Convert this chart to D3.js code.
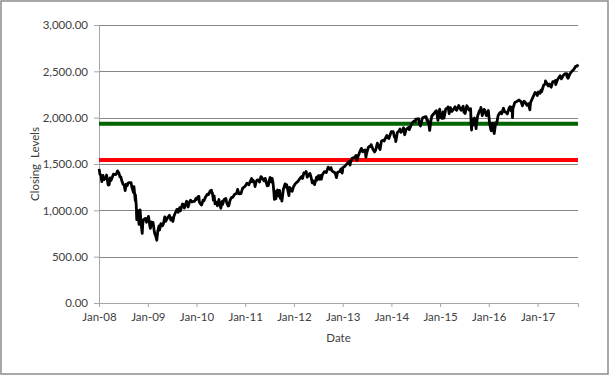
<!DOCTYPE html>
<html>
<head>
<meta charset="utf-8">
<script src="https://cdn.jsdelivr.net/npm/d3@7"></script>
<style>
  body { margin: 0; background: #fff; }
  svg text { font-family: Lato, "Open Sans", sans-serif; fill: #404040; }
</style>
</head>
<body>
<svg id="chart" width="609" height="375"></svg>
<script>
// S&P 500 closing levels (roughly twice a month plus swings)
const closingLevels = [
  ["2008-01-02",1447],["2008-01-08",1390],["2008-01-15",1380],["2008-01-22",1310],["2008-01-28",1353],["2008-01-31",1378],
  ["2008-02-08",1331],["2008-02-14",1349],["2008-02-21",1342],["2008-02-27",1381],["2008-03-07",1294],["2008-03-10",1273],
  ["2008-03-17",1276],["2008-03-24",1349],["2008-03-31",1322],["2008-04-10",1360],["2008-04-18",1390],["2008-04-30",1386],
  ["2008-05-09",1388],["2008-05-19",1426],["2008-05-30",1400],["2008-06-06",1361],["2008-06-13",1360],["2008-06-20",1318],
  ["2008-06-30",1280],["2008-07-08",1273],["2008-07-15",1214],["2008-07-23",1282],["2008-07-31",1267],["2008-08-08",1296],
  ["2008-08-15",1298],["2008-08-28",1300],["2008-09-05",1242],["2008-09-15",1193],["2008-09-19",1255],["2008-09-29",1106],
  ["2008-09-30",1166],["2008-10-06",1056],["2008-10-10",899],["2008-10-13",1003],["2008-10-20",985],["2008-10-27",848],
  ["2008-10-31",968],["2008-11-04",1005],["2008-11-12",852],["2008-11-20",752],["2008-11-24",851],["2008-11-28",896],
  ["2008-12-08",909],["2008-12-16",913],["2008-12-22",871],["2008-12-31",903],
  ["2009-01-06",935],["2009-01-15",843],["2009-01-20",805],["2009-01-28",874],["2009-02-09",870],["2009-02-17",789],
  ["2009-02-23",743],["2009-02-27",735],["2009-03-09",677],["2009-03-17",778],["2009-03-26",832],["2009-03-30",787],
  ["2009-04-09",857],["2009-04-20",832],["2009-04-28",855],["2009-05-08",929],["2009-05-15",882],["2009-05-29",919],
  ["2009-06-12",946],["2009-06-23",895],["2009-06-30",919],["2009-07-08",880],["2009-07-17",941],["2009-07-31",987],
  ["2009-08-07",1010],["2009-08-17",979],["2009-08-28",1029],["2009-09-02",994],["2009-09-18",1068],["2009-09-30",1057],
  ["2009-10-02",1025],["2009-10-19",1098],["2009-10-30",1036],["2009-11-10",1094],["2009-11-17",1110],["2009-11-27",1091],
  ["2009-12-09",1096],["2009-12-17",1097],["2009-12-28",1128],["2009-12-31",1115],
  ["2010-01-11",1146],["2010-01-19",1150],["2010-01-22",1092],["2010-01-29",1074],["2010-02-08",1057],["2010-02-19",1109],
  ["2010-02-26",1104],["2010-03-10",1145],["2010-03-23",1174],["2010-03-31",1169],["2010-04-14",1211],["2010-04-23",1217],
  ["2010-04-27",1183],["2010-04-30",1187],["2010-05-06",1128],["2010-05-07",1111],["2010-05-13",1157],["2010-05-20",1071],
  ["2010-05-25",1074],["2010-05-28",1089],["2010-06-07",1050],["2010-06-18",1117],["2010-06-29",1041],["2010-07-02",1022],
  ["2010-07-13",1095],["2010-07-16",1065],["2010-07-26",1115],["2010-08-09",1128],["2010-08-16",1080],["2010-08-26",1047],
  ["2010-08-31",1049],["2010-09-10",1110],["2010-09-21",1140],["2010-09-30",1141],["2010-10-14",1173],["2010-10-29",1183],
  ["2010-11-05",1225],["2010-11-16",1178],["2010-11-30",1181],["2010-12-13",1240],["2010-12-31",1258],
  ["2011-01-14",1293],["2011-01-28",1276],["2011-01-31",1286],["2011-02-18",1343],["2011-02-23",1307],["2011-02-28",1327],
  ["2011-03-11",1304],["2011-03-16",1257],["2011-03-24",1309],["2011-03-31",1326],["2011-04-08",1329],["2011-04-18",1305],
  ["2011-04-29",1364],["2011-05-02",1361],["2011-05-13",1338],["2011-05-23",1317],["2011-05-31",1345],["2011-06-15",1265],
  ["2011-06-24",1268],["2011-06-30",1321],["2011-07-07",1354],["2011-07-18",1305],["2011-07-22",1345],["2011-07-29",1292],
  ["2011-08-04",1200],["2011-08-08",1119],["2011-08-10",1121],["2011-08-15",1204],["2011-08-19",1124],["2011-08-31",1219],
  ["2011-09-09",1154],["2011-09-16",1216],["2011-09-22",1130],["2011-09-30",1131],["2011-10-03",1099],["2011-10-14",1225],
  ["2011-10-27",1285],["2011-10-31",1253],["2011-11-08",1276],["2011-11-25",1159],["2011-11-30",1247],["2011-12-08",1234],
  ["2011-12-19",1206],["2011-12-30",1258],
  ["2012-01-13",1289],["2012-01-31",1312],["2012-02-15",1344],["2012-02-29",1366],["2012-03-06",1343],["2012-03-16",1404],
  ["2012-03-30",1408],["2012-04-02",1419],["2012-04-10",1358],["2012-04-20",1379],["2012-04-30",1398],["2012-05-08",1363],
  ["2012-05-18",1295],["2012-05-25",1317],["2012-05-31",1310],["2012-06-04",1278],["2012-06-19",1357],["2012-06-21",1325],
  ["2012-06-29",1362],["2012-07-03",1375],["2012-07-12",1334],["2012-07-19",1376],["2012-07-25",1337],["2012-07-31",1379],
  ["2012-08-16",1418],["2012-08-31",1407],["2012-09-14",1466],["2012-09-28",1441],["2012-10-05",1461],["2012-10-12",1428],
  ["2012-10-23",1413],["2012-10-31",1412],["2012-11-07",1395],["2012-11-15",1353],["2012-11-23",1409],["2012-11-30",1416],
  ["2012-12-10",1418],["2012-12-18",1446],["2012-12-28",1402],["2012-12-31",1426],
  ["2013-01-02",1462],["2013-01-15",1472],["2013-01-31",1498],["2013-02-19",1530],["2013-02-25",1488],["2013-02-28",1515],
  ["2013-03-14",1563],["2013-03-28",1569],["2013-04-11",1593],["2013-04-18",1541],["2013-04-30",1598],["2013-05-10",1634],
  ["2013-05-21",1669],["2013-05-31",1631],["2013-06-07",1643],["2013-06-18",1652],["2013-06-24",1573],["2013-06-28",1606],
  ["2013-07-12",1680],["2013-07-23",1692],["2013-07-31",1686],["2013-08-02",1710],["2013-08-15",1662],["2013-08-27",1630],
  ["2013-08-30",1633],["2013-09-06",1655],["2013-09-18",1725],["2013-09-30",1682],["2013-10-08",1656],["2013-10-18",1745],
  ["2013-10-31",1757],["2013-11-07",1748],["2013-11-27",1807],["2013-11-29",1806],["2013-12-05",1785],["2013-12-13",1775],
  ["2013-12-31",1848],
  ["2014-01-15",1848],["2014-01-24",1790],["2014-01-31",1783],["2014-02-03",1742],["2014-02-14",1838],["2014-02-28",1859],
  ["2014-03-07",1878],["2014-03-14",1841],["2014-03-31",1872],["2014-04-02",1891],["2014-04-11",1816],["2014-04-21",1872],
  ["2014-04-30",1884],["2014-05-13",1897],["2014-05-15",1870],["2014-05-30",1924],["2014-06-10",1951],["2014-06-20",1963],
  ["2014-06-30",1960],["2014-07-03",1985],["2014-07-24",1988],["2014-07-31",1931],["2014-08-07",1910],["2014-08-21",1993],
  ["2014-08-29",2003],["2014-09-18",2011],["2014-09-25",1966],["2014-09-30",1972],["2014-10-09",1928],["2014-10-15",1862],
  ["2014-10-24",1965],["2014-10-31",2018],["2014-11-13",2039],["2014-11-28",2068],["2014-12-05",2075],["2014-12-16",1972],
  ["2014-12-29",2091],["2014-12-31",2059],
  ["2015-01-06",2002],["2015-01-15",1992],["2015-01-22",2063],["2015-01-30",1995],["2015-02-13",2097],["2015-02-27",2105],
  ["2015-03-02",2117],["2015-03-10",2044],["2015-03-20",2108],["2015-03-31",2068],["2015-04-14",2096],["2015-04-24",2117],
  ["2015-04-30",2086],["2015-05-06",2080],["2015-05-21",2131],["2015-05-29",2107],["2015-06-08",2080],["2015-06-23",2124],
  ["2015-06-29",2058],["2015-06-30",2063],["2015-07-08",2046],["2015-07-20",2129],["2015-07-31",2104],["2015-08-06",2083],
  ["2015-08-18",2097],["2015-08-21",1971],["2015-08-24",1893],["2015-08-25",1867],["2015-08-28",1989],["2015-09-01",1914],
  ["2015-09-16",1996],["2015-09-28",1882],["2015-09-30",1920],["2015-10-09",2015],["2015-10-23",2075],["2015-10-30",2079],
  ["2015-11-03",2110],["2015-11-13",2023],["2015-11-27",2090],["2015-11-30",2080],["2015-12-02",2080],["2015-12-14",2022],
  ["2015-12-29",2078],["2015-12-31",2044],
  ["2016-01-07",1943],["2016-01-15",1880],["2016-01-20",1859],["2016-01-29",1940],["2016-02-05",1880],["2016-02-11",1829],
  ["2016-02-22",1946],["2016-02-29",1932],["2016-03-11",2022],["2016-03-22",2049],["2016-03-31",2060],["2016-04-07",2041],
  ["2016-04-20",2102],["2016-04-29",2065],["2016-05-09",2058],["2016-05-19",2040],["2016-05-31",2097],["2016-06-08",2119],
  ["2016-06-16",2077],["2016-06-23",2113],["2016-06-27",2001],["2016-06-30",2099],["2016-07-14",2163],["2016-07-29",2174],
  ["2016-08-15",2191],["2016-08-31",2171],["2016-09-09",2128],["2016-09-22",2177],["2016-09-30",2168],["2016-10-13",2133],
  ["2016-10-24",2151],["2016-11-04",2085],["2016-11-09",2163],["2016-11-25",2213],["2016-12-13",2271],["2016-12-23",2264],
  ["2016-12-30",2239],
  ["2017-01-06",2277],["2017-01-19",2263],["2017-01-26",2296],["2017-01-31",2279],["2017-02-15",2350],["2017-02-28",2364],
  ["2017-03-01",2396],["2017-03-21",2344],["2017-03-27",2342],["2017-03-31",2363],["2017-04-13",2329],["2017-04-25",2389],
  ["2017-04-28",2384],["2017-05-16",2401],["2017-05-17",2357],["2017-05-31",2412],["2017-06-19",2453],["2017-06-29",2419],
  ["2017-06-30",2423],["2017-07-14",2459],["2017-07-27",2475],["2017-07-31",2470],["2017-08-08",2475],["2017-08-10",2438],
  ["2017-08-18",2426],["2017-08-31",2472],["2017-09-12",2496],["2017-09-29",2519],["2017-10-13",2553],["2017-10-25",2557],
  ["2017-10-31",2575]
];

// horizontal reference levels
const greenLevel = 1935;
const redLevel = 1543;

const yTicks = [0, 500, 1000, 1500, 2000, 2500, 3000];
const xTickYears = [2008, 2009, 2010, 2011, 2012, 2013, 2014, 2015, 2016, 2017];

const parse = d3.timeParse("%Y-%m-%d");
const data = closingLevels.map(d => ({ date: parse(d[0]), close: d[1] }));

const svg = d3.select("#chart");
const margin = { left: 99, right: 31, top: 25, bottom: 72 };
const width = 609 - margin.left - margin.right;
const height = 375 - margin.top - margin.bottom;

// outer chart border
svg.append("rect")
    .attr("x", 1).attr("y", 1)
    .attr("width", 607).attr("height", 373)
    .attr("fill", "none")
    .attr("stroke", "#8c8c8c")
    .attr("stroke-width", 1.5);

const g = svg.append("g")
    .attr("transform", `translate(${margin.left},${margin.top})`);

const x = d3.scaleTime()
    .domain([new Date(2008, 0, 1), data[data.length - 1].date])
    .range([0, width]);

const y = d3.scaleLinear()
    .domain([0, 3000])
    .range([height, 0]);

// gridlines
g.append("g")
    .selectAll("line")
    .data(yTicks.filter(v => v > 0))
    .join("line")
    .attr("x1", 0).attr("x2", width)
    .attr("y1", d => Math.round(y(d)) + 0.5)
    .attr("y2", d => Math.round(y(d)) + 0.5)
    .attr("stroke", "#868686")
    .attr("stroke-width", 1);

// y axis
const yAxis = g.append("g")
    .call(d3.axisLeft(y).tickValues(yTicks).tickSize(5).tickPadding(6)
        .tickFormat(d3.format(",.2f")));
yAxis.select(".domain").attr("stroke", "#a6a6a6");
yAxis.selectAll(".tick line").attr("stroke", "#a6a6a6");
yAxis.selectAll("text").style("font-size", "11.5px");

// x axis
const xAxis = g.append("g")
    .attr("transform", `translate(0,${height})`)
    .call(d3.axisBottom(x)
        .tickValues(xTickYears.map(yr => new Date(yr, 0, 1)))
        .tickSize(4).tickPadding(6)
        .tickFormat(d3.timeFormat("Jan-%y")));
xAxis.select(".domain").attr("stroke", "#a6a6a6");
xAxis.selectAll(".tick line").attr("stroke", "#a6a6a6");
xAxis.selectAll("text").style("font-size", "11.5px");

// reference lines
g.append("line")
    .attr("x1", 0).attr("x2", width)
    .attr("y1", y(redLevel)).attr("y2", y(redLevel))
    .attr("stroke", "#ff0000")
    .attr("stroke-width", 4);

g.append("line")
    .attr("x1", 0).attr("x2", width)
    .attr("y1", y(greenLevel)).attr("y2", y(greenLevel))
    .attr("stroke", "#006400")
    .attr("stroke-width", 4);

// closing levels
const line = d3.line()
    .x(d => x(d.date))
    .y(d => y(d.close));

g.append("path")
    .datum(data)
    .attr("fill", "none")
    .attr("stroke", "#000")
    .attr("stroke-width", 2.8)
    .attr("stroke-linejoin", "round")
    .attr("d", line);

// axis titles
svg.append("text")
    .attr("x", margin.left + width / 2)
    .attr("y", 342)
    .attr("text-anchor", "middle")
    .style("font-size", "11.5px")
    .text("Date");

svg.append("text")
    .attr("transform", `translate(39,${margin.top + height / 2}) rotate(-90)`)
    .attr("text-anchor", "middle")
    .style("font-size", "11.5px")
    .attr("xml:space", "preserve")
    .text("Closing  Levels");
</script>
</body>
</html>
